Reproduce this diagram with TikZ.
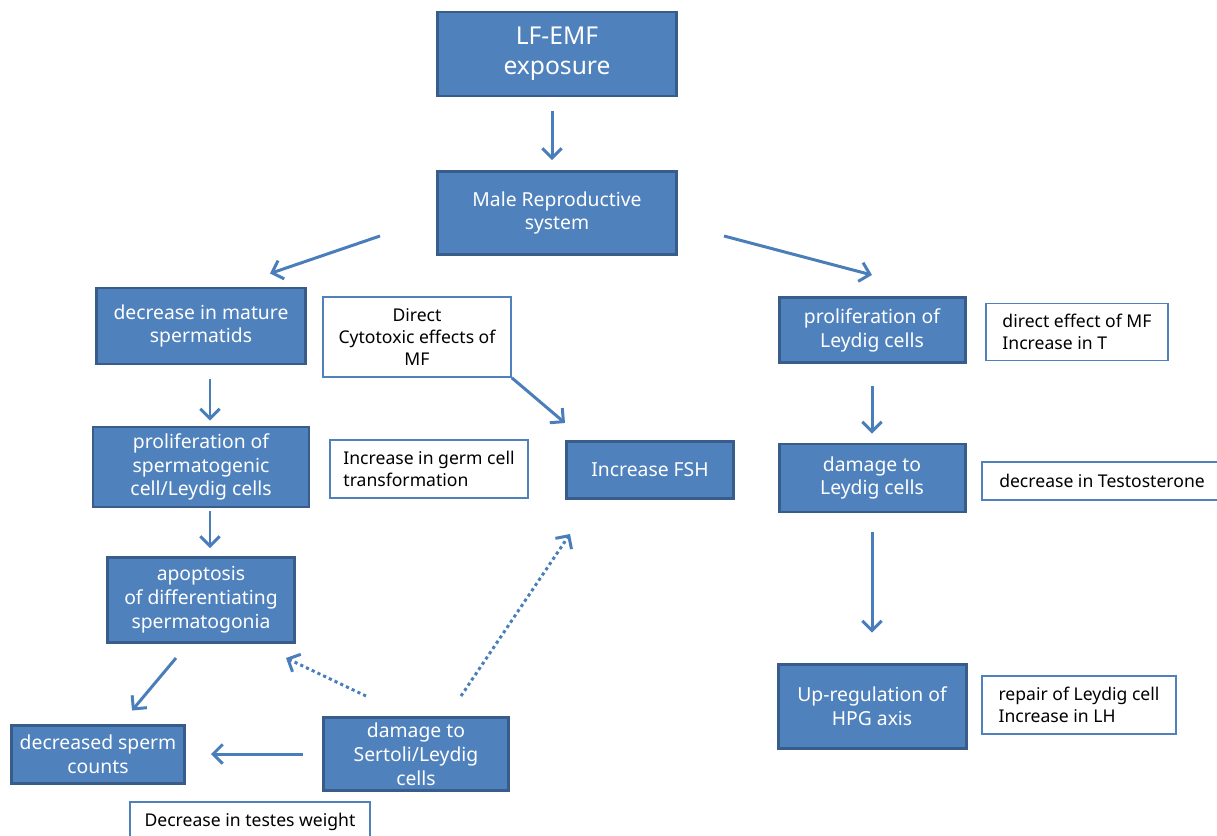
\documentclass[tikz,border=0pt]{standalone}
\usepackage{fontspec}
\setmainfont{Noto Sans}
\usepackage{tikz}
\usetikzlibrary{calc,arrows.meta}
\newlength{\pxu}
\setlength{\pxu}{0.02cm}
\definecolor{boxblue}{HTML}{4F81BD}
\definecolor{boxedge}{HTML}{385D8A}
\definecolor{arrblue}{HTML}{4A7EBB}

\begin{document}
\begin{tikzpicture}[x=\pxu, y=-\pxu,
  bluebox/.style = {draw=boxedge, line width=1.7pt, fill=boxblue, text=white,
                    align=center, inner sep=0pt, font=\fontsize{11}{13.6}\selectfont},
  notebox/.style = {draw=boxblue, line width=0.9pt, fill=white, text=black,
                    inner sep=0pt, font=\fontsize{10}{12.5}\selectfont},
  arr/.style     = {draw=arrblue, line width=1.7pt, -{Straight Barb[length=5.5pt, width=11pt]}},
  dotarr/.style  = {arr, dash pattern=on 1.8pt off 1.8pt}]
  \clip (0,0) rectangle (1217,835);

  % centre column
  \node[bluebox, font=\fontsize{14}{17}\selectfont, minimum width=239\pxu, minimum height=84\pxu]
    (lfemf) at (557,54) {LF-EMF\\exposure};
  \node[bluebox, minimum width=239\pxu, minimum height=83\pxu]
    (male) at (557,213) {Male Reproductive\\system};

  % left branch
  \node[bluebox, minimum width=209\pxu, minimum height=76\pxu]
    (dec) at (201,326) {decrease in mature\\spermatids};
  \node[notebox, align=center, minimum width=188\pxu, minimum height=80\pxu]
    (direct) at (417,337) {Direct\\Cytotoxic effects of\\MF};
  \node[bluebox, minimum width=216\pxu, minimum height=80\pxu]
    (prolsp) at (201,467) {proliferation of\\spermatogenic\\cell/Leydig cells};
  \node[notebox, align=left, minimum width=198\pxu, minimum height=58\pxu]
    (germ) at (429,469) {Increase in germ cell\\transformation};
  \node[bluebox, minimum width=167\pxu, minimum height=57\pxu]
    (fsh) at (650,470) {Increase FSH};
  \node[bluebox, minimum width=187\pxu, minimum height=85\pxu]
    (apop) at (201,600) {apoptosis\\of differentiating\\spermatogonia};
  \node[bluebox, minimum width=173\pxu, minimum height=58\pxu]
    (sperm) at (98,754) {decreased sperm\\counts};
  \node[bluebox, minimum width=185\pxu, minimum height=73\pxu]
    (dmgsl) at (416,754) {damage to\\Sertoli/Leydig\\cells};
  \node[notebox, minimum width=240\pxu, minimum height=40\pxu]
    (testes) at (250,822) {Decrease in testes weight};

  % right branch
  \node[bluebox, minimum width=186\pxu, minimum height=65\pxu]
    (prolley) at (872,330) {proliferation of\\Leydig cells};
  \node[notebox, align=left, minimum width=182\pxu, minimum height=57\pxu]
    (dirmf) at (1077,332) {direct effect of MF\\Increase in T};
  \node[bluebox, minimum width=186\pxu, minimum height=68\pxu]
    (dmgley) at (872,478) {damage to\\Leydig cells};
  \node[notebox, minimum width=240\pxu, minimum height=38\pxu]
    (testo) at (1102,481) {decrease in Testosterone};
  \node[bluebox, minimum width=188\pxu, minimum height=84\pxu]
    (upreg) at (872,706) {Up-regulation of\\HPG axis};
  \node[notebox, align=left, minimum width=194\pxu, minimum height=58\pxu]
    (repair) at (1079,705) {repair of Leydig cell\\Increase in LH};

  \draw[arr] ($(lfemf.south)+(-5,14)$) -- ($(male.north)+(-5,-10)$);
  \draw[arr] ($(male.south west)+(-56,-20)$) -- ($(dec.north)+(69,-13)$);
  \draw[arr] ($(male.south east)+(46,-20)$) -- ($(prolley.north)+(0,-21)$);
  \draw[arr] ($(dec.south)+(9,14)$) -- ($(prolsp.north)+(9,-5)$);
  \draw[arr] ($(prolsp.south)+(9,3)$) -- ($(apop.north)+(9,-8)$);
  \draw[arr] (direct.south east) -- ($(fsh.north west)+(0,-17)$);
  \draw[arr] ($(apop.south)+(-25,14)$) -- ($(sperm.north)+(34,-13)$);
  \draw[arr] ($(dmgsl.west)+(-19,0)$) -- ($(sperm.east)+(25,0)$);
  \draw[dotarr] ($(dmgsl.north west)+(44,-20)$) -- ($(apop.south east)+(-10,14)$);
  \draw[dotarr] ($(dmgsl.north east)+(-49,-20)$) -- ($(fsh.south west)+(5,34)$);
  \draw[arr] ($(prolley.south)+(0,22)$) -- ($(dmgley.north)+(0,-9)$);
  \draw[arr] ($(dmgley.south)+(0,18)$) -- ($(upreg.north)+(0,-30)$);
\end{tikzpicture}
\end{document}
